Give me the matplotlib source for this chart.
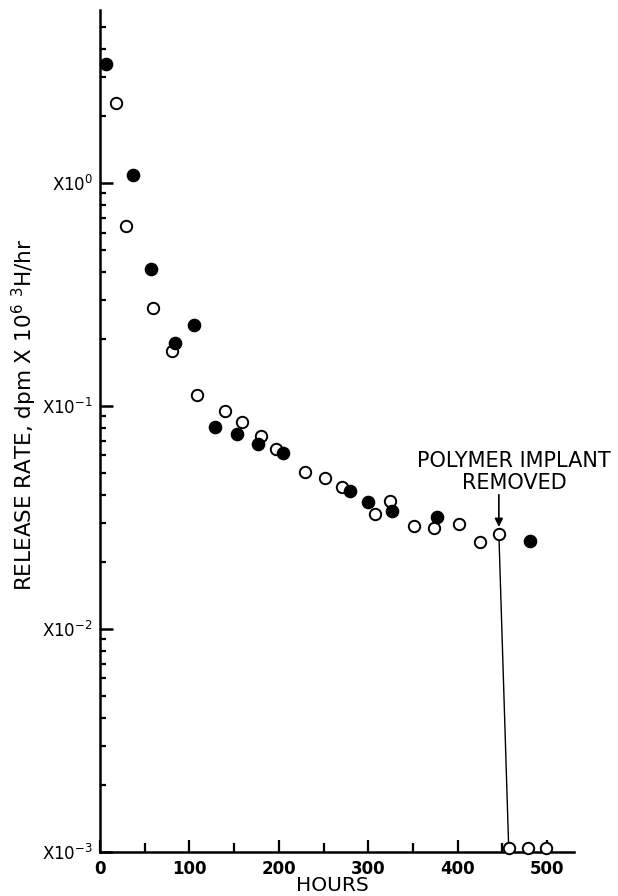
import numpy as np
import matplotlib
matplotlib.use("Agg")
import matplotlib.pyplot as plt
from matplotlib.ticker import LogLocator, MultipleLocator, NullFormatter

plt.rcParams['font.family'] = ['DejaVu Sans']
plt.rcParams['mathtext.default'] = 'regular'

# filled circles
filled_hours = [6.4, 37, 57, 105, 84, 129, 153, 177, 205, 280, 300, 327, 377, 481]
filled_rate = [3.42, 1.09, 0.41, 0.232, 0.191, 0.0803, 0.0746, 0.0676, 0.0614,
               0.0417, 0.0372, 0.0337, 0.0318, 0.0248]

# open circles
open_hours = [18, 29.5, 59.5, 80.5, 109, 139.5, 158.6, 179.6, 196.7, 229.7, 252,
              271, 307, 324, 351, 373, 401, 425, 446, 457, 479, 499]
open_rate = [2.28, 0.643, 0.275, 0.177, 0.112, 0.0947, 0.0845, 0.0733, 0.064,
             0.0506, 0.0477, 0.0435, 0.0328, 0.0376, 0.0291, 0.0285, 0.0296,
             0.0245, 0.0267, 0.00104, 0.00104, 0.00104]

# drop after the implant was removed
drop_hours = [446, 457]
drop_rate = [0.0267, 0.00104]

ytick_vals = [1e-3, 1e-2, 1e-1, 1e0]
ytick_labels = ["X10$^{-3}$", "X10$^{-2}$", "X10$^{-1}$", "X10$^{0}$"]
xtick_vals = [0, 100, 200, 300, 400, 500]

fig = plt.figure(figsize=(6.18, 8.96), dpi=100)
ax = fig.add_axes([100 / 618, 1 - 852 / 896, 474 / 618, 842 / 896])

ax.plot(drop_hours, drop_rate, color="black", lw=1.0, zorder=2)
ax.plot(open_hours, open_rate, "o", ms=8.2, mfc="white", mec="black", mew=1.4,
        zorder=3, clip_on=False)
ax.plot(filled_hours, filled_rate, "o", ms=8.8, mfc="black", mec="black",
        zorder=4, clip_on=False)

ax.set_yscale("log")
ax.set_xlim(0, 530)
ax.set_ylim(1e-3, 5.97)

for s in ["top", "right"]:
    ax.spines[s].set_visible(False)
for s in ["left", "bottom"]:
    ax.spines[s].set_linewidth(1.8)

ax.set_yticks(ytick_vals)
ax.set_yticklabels(ytick_labels, fontsize=12)
ax.yaxis.set_minor_locator(LogLocator(base=10, subs=np.arange(2, 10)))
ax.yaxis.set_minor_formatter(NullFormatter())
ax.set_xticks(xtick_vals)
ax.set_xticklabels([str(v) for v in xtick_vals], fontsize=12, fontweight="bold")
ax.xaxis.set_minor_locator(MultipleLocator(50))

ax.tick_params(axis="y", which="major", direction="in", length=9, width=1.8, pad=5)
ax.tick_params(axis="y", which="minor", direction="in", length=4.5, width=1.6)
ax.tick_params(axis="x", which="major", direction="in", length=8.5, width=1.6, pad=6)
ax.tick_params(axis="x", which="minor", direction="in", length=6.5, width=1.6)

ax.text(463, 0.0506, "POLYMER IMPLANT\nREMOVED", ha="center", va="center",
        fontsize=15, linespacing=1.1)
ax.annotate("", xy=(446, 0.0287), xytext=(446, 0.040),
            arrowprops=dict(arrowstyle="-|>", color="black", lw=1.2,
                            mutation_scale=12, shrinkA=0, shrinkB=0))

fig.text(332 / 618, 1 - 885 / 896, "HOURS", ha="center", va="center", fontsize=14.5)
fig.text(24 / 618, 1 - 415 / 896, "RELEASE RATE, dpm X 10$^{6}$ $^{3}$H/hr",
         rotation=90, ha="center", va="center", fontsize=15.5)

fig.savefig("out.png", dpi=100)
